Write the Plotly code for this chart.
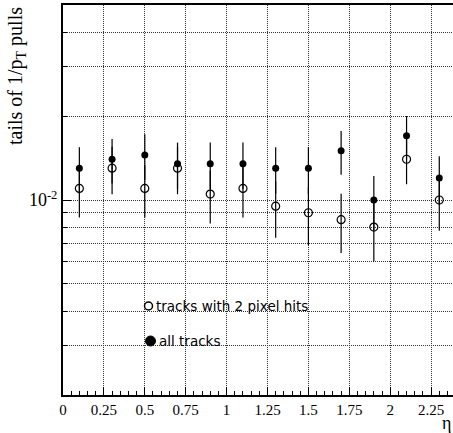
import numpy as np
import plotly.graph_objects as go

eta = [0.1, 0.3, 0.5, 0.7, 0.9, 1.1, 1.3, 1.5, 1.7, 1.9, 2.1, 2.3]
all_tracks = [0.0130, 0.0140, 0.0145, 0.0135, 0.0135, 0.0135, 0.0130, 0.0130, 0.0150, 0.0100, 0.0170, 0.0120]
all_err = [0.00246, 0.00255, 0.0027, 0.00256, 0.00256, 0.00256, 0.00246, 0.00246, 0.00269, 0.00219, 0.0030, 0.00236]
pix2 = [0.0110, 0.0130, 0.0110, 0.0130, 0.0105, 0.0110, 0.0095, 0.0090, 0.0085, 0.0080, 0.0140, 0.0100]
pix2_err = [0.00234, 0.00251, 0.00234, 0.00251, 0.00226, 0.00234, 0.00217, 0.00211, 0.00204, 0.00197, 0.00261, 0.00224]

xtick_vals = [0, 0.25, 0.5, 0.75, 1, 1.25, 1.5, 1.75, 2, 2.25]
xtick_text = ["0", "0.25", "0.5", "0.75", "1", "1.25", "1.5", "1.75", "2", "2.25"]
ymajor = [0.01]
ymajor_text = ["10<sup>-2</sup>"]
yminor = [0.003, 0.004, 0.005, 0.006, 0.007, 0.008, 0.009, 0.02, 0.03, 0.04]

serif = "Liberation Serif"
grid_dash = "1px,1px"
grid_col = "#333333"

fig = go.Figure()
fig.add_trace(go.Scatter(
    x=eta, y=pix2, mode="markers", name="tracks with 2 pixel hits",
    marker=dict(symbol="circle-open", size=8, color="black", line=dict(width=1.2, color="black")),
    error_y=dict(type="data", array=pix2_err, color="black", thickness=1.2, width=0),
))
fig.add_trace(go.Scatter(
    x=eta, y=all_tracks, mode="markers", name="all tracks",
    marker=dict(symbol="circle", size=7, color="black"),
    error_y=dict(type="data", array=all_err, color="black", thickness=1.2, width=0),
))

L, T, B = 63, 5, 38
W, H = 453, 433
pw = W - L
ph = H - T - B

def px(X):
    return (X - L) / pw

def py(Y):
    return (H - B - Y) / ph

fig.update_layout(
    width=W, height=H,
    margin=dict(l=L, r=0, t=T, b=B),
    paper_bgcolor="white", plot_bgcolor="white",
    showlegend=False,
    font=dict(family=serif, color="black", size=14),
)

fig.update_xaxes(
    range=[0, pw / 163.6],
    tickmode="array", tickvals=xtick_vals, ticktext=xtick_text,
    ticks="inside", ticklen=8, tickwidth=1, tickcolor="black",
    showline=True, linecolor="black", linewidth=2, mirror=True,
    showgrid=True, gridcolor=grid_col, griddash=grid_dash, gridwidth=1,
    zeroline=False,
    tickfont=dict(family=serif, size=15),
    minor=dict(dtick=0.05, tick0=0, ticks="inside", ticklen=4, tickcolor="black", showgrid=False),
)
fig.update_yaxes(
    type="log", range=[np.log10(0.002), np.log10(0.05)],
    tickmode="array", tickvals=ymajor, ticktext=ymajor_text,
    ticks="inside", ticklen=8, tickwidth=1, tickcolor="black",
    showline=True, linecolor="black", linewidth=2,
    showgrid=True, gridcolor=grid_col, griddash=grid_dash, gridwidth=1,
    zeroline=False,
    tickfont=dict(family=serif, size=18),
    minor=dict(tickmode="array", tickvals=yminor, ticks="inside", ticklen=4, tickcolor="black",
               showgrid=True, gridcolor=grid_col, griddash=grid_dash, gridwidth=1),
)

# legend-like markers and text
fig.add_shape(type="circle", xref="paper", yref="paper", xsizemode="pixel", ysizemode="pixel",
              xanchor=px(148.5), yanchor=py(306), x0=-4, x1=4, y0=-4, y1=4,
              line=dict(color="black", width=1.5), fillcolor="white")
fig.add_shape(type="circle", xref="paper", yref="paper", xsizemode="pixel", ysizemode="pixel",
              xanchor=px(150.5), yanchor=py(341), x0=-5, x1=5, y0=-5, y1=5,
              line=dict(color="black", width=1), fillcolor="black")
fig.add_annotation(text="tracks with 2 pixel hits", xref="paper", yref="paper",
                   x=px(154), y=py(306), xanchor="left", yanchor="middle", showarrow=False,
                   font=dict(family="DejaVu Sans", size=13.5, color="black"))
fig.add_annotation(text="all tracks", xref="paper", yref="paper",
                   x=px(157), y=py(341), xanchor="left", yanchor="middle", showarrow=False,
                   font=dict(family="DejaVu Sans", size=13.5, color="black"))

# axis titles
fig.add_annotation(text="tails of 1/p<sub>T</sub> pulls", xref="paper", yref="paper",
                   x=px(16), y=1, xanchor="center", yanchor="top", textangle=-90, showarrow=False,
                   font=dict(family=serif, size=20, color="black"))
fig.add_annotation(text="η", xref="paper", yref="paper",
                   x=px(453), y=py(423), xanchor="right", yanchor="middle", showarrow=False,
                   font=dict(family=serif, size=18, color="black"))

fig.write_html("out.html")
